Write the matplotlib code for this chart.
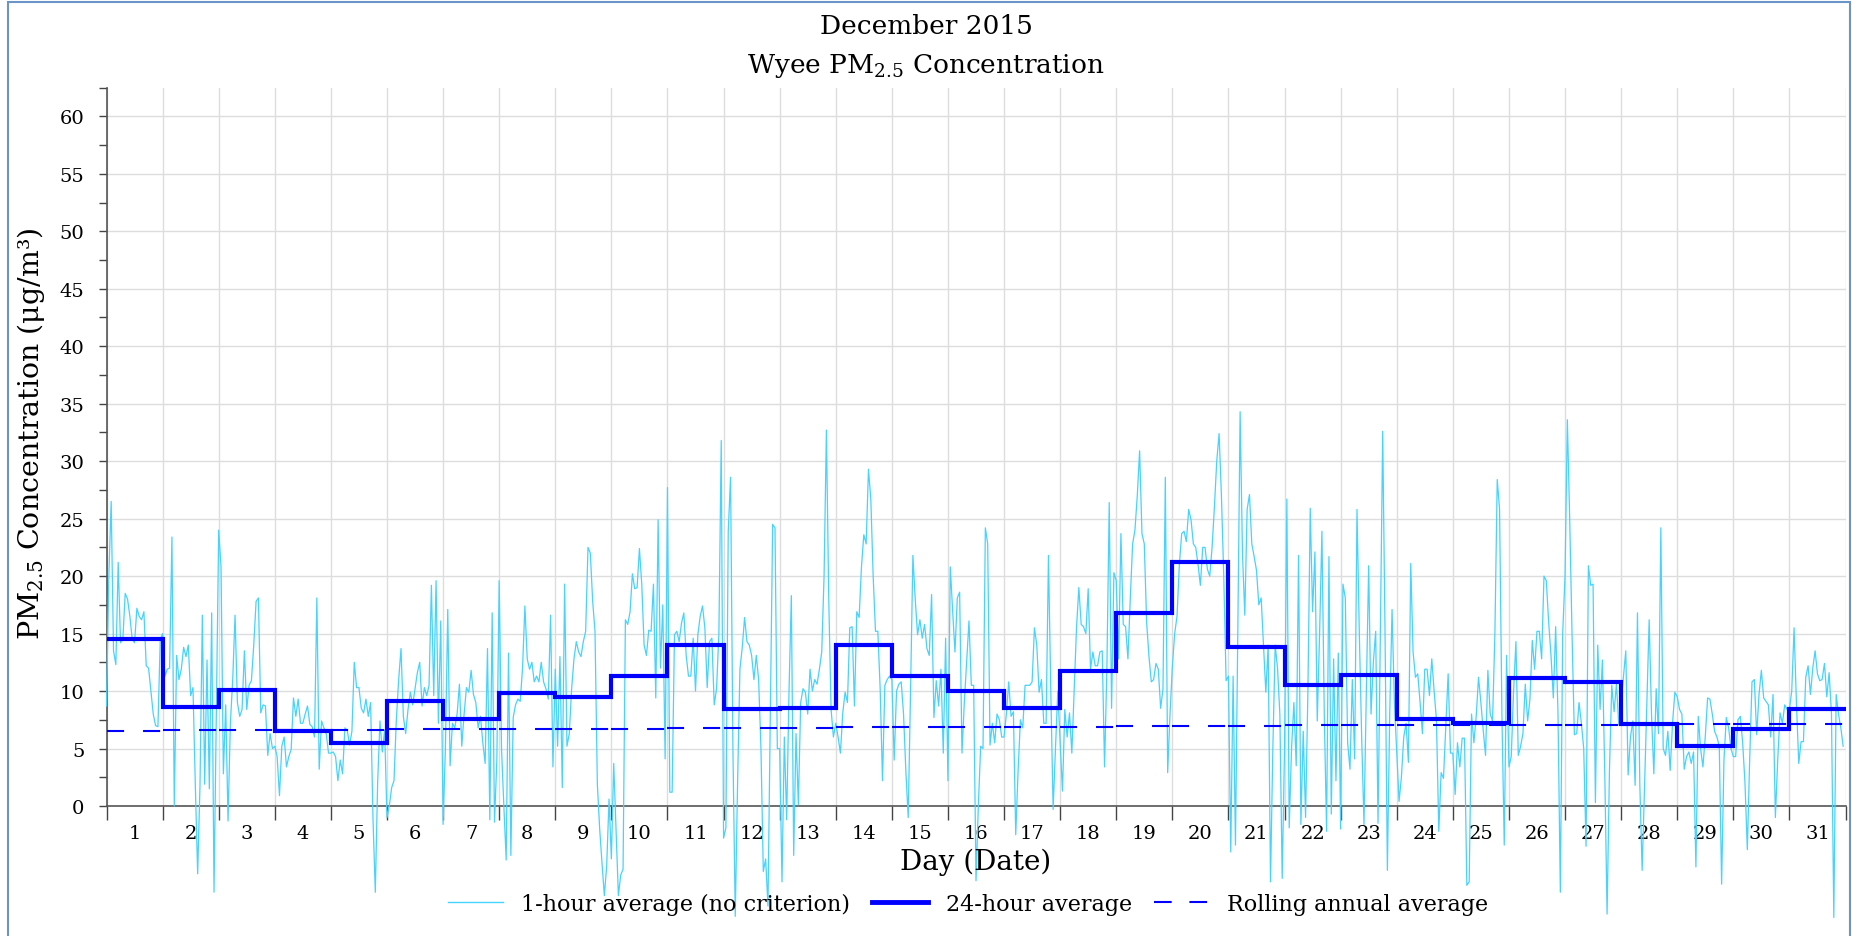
import numpy as np
import matplotlib
matplotlib.use("Agg")
import matplotlib.pyplot as plt
from matplotlib.lines import Line2D
from matplotlib.patches import Rectangle

plt.rcParams['font.family'] = ['DejaVu Serif']
plt.rcParams['mathtext.fontset'] = 'dejavuserif'

days = list(range(1, 32))
day_labels = [str(d) for d in days]

# 1-hour averages, 24 values per day (Dec 1 .. Dec 31)
hourly_pm25 = [
    8.7, 20, 26.5, 13.5, 12.3, 21.2, 14.2, 14.5, 18.5, 18, 16.5, 14.5, 14.2, 17.2, 16.5, 16.2, 16.9, 12.2, 12, 10, 8, 7, 6.9, 14.5,
    15, 11.3, 11.9, 12, 23.4, 0, 13.1, 11, 11.9, 13.8, 13, 14, 9.6, 10.3, 1.8, -5.9, 1.8, 16.6, 1.9, 12.7, 1.5, 16.8, -7.5, 8,
    24, 20.8, 2.8, 8.8, -1.3, 7.2, 11, 16.6, 9, 7.8, 8.4, 13.5, 8.4, 10.5, 10.9, 14, 17.8, 18.1, 8.1, 8.8, 8.7, 4.4, 6.3, 5,
    5.2, 4.3, 0.9, 5.2, 6.0, 3.4, 4.3, 4.9, 9.4, 7.8, 9.3, 7.2, 7.2, 8.0, 8.7, 7.1, 6.9, 6.0, 18.1, 3.2, 7.4, 6.8, 6.3, 4.6,
    4.6, 4.7, 4.3, 2.2, 4.0, 2.8, 6.8, 6.6, 5.3, 6.5, 12.5, 10.3, 10.3, 8.5, 8.1, 9.3, 7.8, 9.0, -1, -7.5, 2, 7.4, 4.7, 6.6,
    -1, 0, 1.6, 2.2, 7.5, 11, 13.7, 7.8, 6.3, 8.4, 9.9, 8.8, 10.2, 11.6, 12.5, 8.7, 10.3, 9.6, 10.5, 19.2, 9.6, 19.6, 7.2, 16.1,
    -1.6, 5, 17.1, 3.5, 7.2, 6.8, 8, 10.6, 5.2, 8, 10.3, 9.9, 11.8, 9.7, 9, 6.8, 7.8, 5.5, 3.7, 13.7, -1.2, 16.8, -1.4, 4,
    19.6, 5, 0, -4.7, 13.3, -4.3, 7.7, 8.8, 9.3, 9.1, 12, 17.4, 12.8, 11.9, 12.5, 10.8, 11.3, 10.8, 12.5, 10.8, 10.2, 9.3, 16.6, 3.4,
    11.9, 5.2, 13, 1.6, 19.3, 5.2, 6.3, 10.2, 12.8, 14.3, 13.4, 13, 14.3, 15.2, 22.5, 22, 17.8, 15.2, 1.9, -2, -5, -7.8, -5.2, 0.6,
    -4.6, 3.7, -2, -7.8, -6, -5.5, 16.2, 15.8, 16.9, 20.2, 18.9, 19.0, 22.4, 19.3, 14.0, 13.1, 15.3, 15.2, 19.3, 9.4, 24.9, 12, 17.5, 4.1,
    27.7, 1.2, 1.2, 14.9, 15.2, 14.3, 15.9, 16.8, 13.1, 11.3, 11.3, 14.6, 10, 14.9, 16.5, 17.4, 15.5, 10.3, 14.3, 14.6, 8.8, 10.2, 15, 31.8,
    -2.8, -1.9, 23.9, 28.6, 5, -9.6, 2, 11.9, 13.8, 16.4, 14.3, 14, 13.1, 11, 13.1, 11, 5, -5.7, -4.6, -8.7, 8, 24.5, 24.2, 5,
    5, -6.6, 6, -1.2, 10, 18.3, -4.3, 6.3, 0.1, 9, 10.2, 9.9, 8, 11.9, 10, 11, 10.6, 11.9, 13.4, 20, 32.7, 18, 8.4, 6,
    7.2, 6, 4.6, 8.1, 9.9, 9, 15.5, 15.6, 8.7, 16.9, 16.4, 20.8, 23.6, 22.8, 29.3, 26.7, 20, 15.2, 15.2, 10.2, 2.2, 10.5, 11, 11.3,
    11, 4, 10, 10.6, 10.8, 8, 3, -1, 10, 21.8, 18, 14.9, 16.2, 14.6, 15.8, 13.7, 13.1, 18.4, 7.7, 10.9, 8.7, 11.9, 4.6, 14.6,
    2.2, 20.8, 17, 13.4, 18.1, 18.6, 4.6, 9, 12.5, 16.1, 10.5, 10.5, -6.5, 0, 5.2, 5, 24.2, 22.8, 5.3, 7.2, 5.5, 8, 7.5, 6,
    6, 8, 10.8, 7.8, 8.2, -2.5, 3, 7.5, 6.8, 10.5, 10.5, 10.5, 10.8, 15.5, 14, 9.9, 11, 7.2, 7.2, 21.8, 10, -0.3, 5, 10,
    5.5, 1.3, 8.4, 6, 8.1, 4.6, 10, 15.5, 19, 15.8, 15.6, 15, 18.9, 11.9, 13.4, 12.2, 12.2, 13.4, 13.5, 3.4, 12, 26.4, 8.5, 20.3,
    19.6, 12.8, 23.7, 15.8, 15.6, 12.8, 18, 22.8, 24, 27, 30.9, 23.7, 22.8, 16, 13, 10.8, 11, 12.4, 11.9, 8.5, 10.2, 28.6, 2.9, 8,
    12.1, 15, 16.5, 21, 23.7, 23.9, 23, 25.8, 24.9, 22.8, 22.5, 21, 19.2, 22.5, 22.5, 20.6, 20, 22.5, 26, 30, 32.4, 27, 20, 10.9,
    11.3, -4, 11.3, -3.4, 15, 34.3, 22, 16.6, 25.8, 27.1, 22.8, 21.7, 20.5, 17.5, 18.1, 14, 9.9, 14, -6.6, 5, 14, 12, 8, -6.3,
    5, 26.7, -1.9, 5, 9, 3.5, 21.8, -1.6, 6.5, -1, 10, 25.9, 16.9, 22.1, 7.4, 15, 23.9, 8, -2.2, 21.7, -0.7, 12.8, 2.2, 13.3,
    -2, 19.3, 18.1, 5.5, 3.2, 11, 4.1, 25.8, 15, 6, -1.6, 10, 20.9, 8, 12.5, 15.2, -1.5, 15, 32.6, 15, -5.6, 8, 17.1, 9,
    4.6, 0.4, 2.5, 6, 7.2, 3.8, 21.1, 13.4, 11.2, 11.5, 9, 6.3, 11.9, 11.9, 9.6, 12.8, 10, 7.5, -2.2, 2.9, 2.4, 7, 11.5, 4.6,
    4.6, 1, 5.5, 3.4, 5.9, 5.9, -6.9, -6.6, 8, 5.5, 7.8, 11.2, 9, 6.6, 4.4, 11.8, 8, 7.4, 15, 28.4, 25.8, 8, -3.4, 13.1,
    3.4, 4.3, 10, 14.3, 4.4, 5.2, 6.3, 10.6, 7.4, 9.3, 14.4, 11.9, 15.2, 15.2, 12.8, 20, 19.6, 16, 13.1, 9.4, 15.6, 8, -7.5, 15,
    20, 33.6, 25, 15, 6.2, 6.3, 9, 7.2, 5, -3.5, 20.9, 19.2, 19.3, 0.3, 14, 8.4, 12.7, 3, -9.4, 3, 10.5, 8.2, 10.6, 7.1,
    9, 11.3, 13.5, 2.7, 6, 7.4, 1.8, 16.8, 1.9, -5.6, 1.5, 9, 16.2, 8, 2.8, 10.2, 6.3, 24.2, 5, 4.4, 6.5, 3.1, 7.2, 9.9,
    9.5, 8.4, 8, 3.2, 4.3, 4.7, 3.7, 4.7, -5.3, 7.8, 5, 3.4, 6, 9.4, 9.3, 8, 6.5, 6, 5.2, -6.8, 4, 7.7, 6.8, 5,
    4.3, 4.3, 7.5, 7.8, 5.5, 2, -3.8, 4, 10.8, 11, 6.2, 9.7, 11.8, 9.4, 9.1, 8.8, 6, 9.7, -1, 4, 8.1, 7.2, 8.8, 8.4,
    8.4, 10, 15.5, 9, 3.7, 5.6, 5.6, 11.2, 12.2, 9.7, 12, 13.5, 11.5, 10.9, 11, 12.4, 9.5, 11.6, 8, -9.7, 9.7, 8, 6.8, 5.2,
]

# 24-hour averages (one per day)
daily_avg = [14.5, 8.6, 10.1, 6.55, 5.5, 9.1, 7.6, 9.8, 9.5, 11.3, 14.0, 8.45, 8.55, 14.0, 11.35,
             10.0, 8.55, 11.75, 16.8, 21.2, 13.85, 10.5, 11.4, 7.55, 7.2, 11.1, 10.8, 7.1, 5.2, 6.7, 8.45]

# Rolling annual average (one per day)
rolling_avg = [6.55, 6.57, 6.58, 6.6, 6.63, 6.66, 6.68, 6.7, 6.72, 6.74, 6.76, 6.78, 6.8, 6.84, 6.86,
               6.87, 6.88, 6.9, 6.92, 6.95, 6.98, 7.02, 7.03, 7.04, 7.05, 7.06, 7.08, 7.1, 7.11, 7.12, 7.13]

title_lines = ["December 2015", "Wyee PM$_{2.5}$ Concentration"]

hourly = np.array(hourly_pm25, dtype=float)
x_hour = 0.5 + np.arange(len(hourly)) / 24.0
edges = np.arange(0.5, 32.0, 1.0)

W, H = 1852, 937
fig = plt.figure(figsize=(W / 100, H / 100), dpi=100)
ax = fig.add_axes([106.5 / W, 1 - 807 / H, 1739 / W, (807 - 88.6) / H])

c_hour = '#45d3ff'
c_blue = '#0000ff'

ax.plot(x_hour, hourly, color=c_hour, lw=0.9, clip_on=False, zorder=3)
ax.stairs(daily_avg, edges, baseline=None, color=c_blue, lw=3.0, zorder=4)
for i, r in enumerate(rolling_avg):
    ax.plot([edges[i], edges[i + 1]], [r, r], color=c_blue, lw=1.5,
            ls=(0, (8.2, 9.1)), zorder=4)

ax.set_xlim(0.5, 31.5)
ax.set_ylim(0, 62.5)

ax.set_xticks(edges)
ax.set_xticklabels([])
ax.set_xticks(days, minor=True)
ax.set_xticklabels(day_labels, minor=True)
ax.tick_params(axis='x', which='major', direction='out', length=10, width=1, color='#444444')
ax.tick_params(axis='x', which='minor', length=0, labelsize=14, pad=13)

ax.set_yticks(np.arange(0, 61, 5))
ax.set_yticks(np.arange(0, 62.6, 2.5), minor=True)
ax.tick_params(axis='y', which='both', direction='out', length=6, width=1, color='#444444',
               labelsize=14, pad=10)

ax.grid(True, which='major', color='#dddddd', lw=1.0, zorder=0)
ax.set_axisbelow(True)
for s in ['top', 'right']:
    ax.spines[s].set_visible(False)
for s in ['left', 'bottom']:
    ax.spines[s].set_color('#555555')
    ax.spines[s].set_linewidth(1.2)

fig.text(0.5, 1 - 26 / H, title_lines[0], ha='center', va='center', fontsize=19)
fig.text(0.5, 1 - 66 / H, title_lines[1], ha='center', va='center', fontsize=19)

fig.text(31 / W, 1 - 434 / H, "PM$_{2.5}$ Concentration (μg/m³)", rotation=90,
         ha='center', va='center', fontsize=20.5)
fig.text(976 / W, 1 - 862 / H, "Day (Date)", ha='center', va='center', fontsize=20)

handles = [
    Line2D([], [], color=c_hour, lw=1.0),
    Line2D([], [], color=c_blue, lw=3.5),
    Line2D([], [], color=c_blue, lw=1.5, ls=(0, (8.5, 8.5))),
]
labels = ["1-hour average (no criterion)", "24-hour average", "Rolling annual average"]
fig.legend(handles, labels, loc='center', bbox_to_anchor=(968 / W, 1 - 905 / H), ncol=3,
           frameon=False, fontsize=16, handlelength=2.5, handletextpad=0.8, columnspacing=1.0)

fig.patches.append(Rectangle((8 / W, -0.01), (1850 - 8) / W, 1 - 3 / H + 0.01,
                             transform=fig.transFigure, fill=False,
                             edgecolor='#6b95c9', lw=1.5))

fig.savefig("out.png", dpi=100)
